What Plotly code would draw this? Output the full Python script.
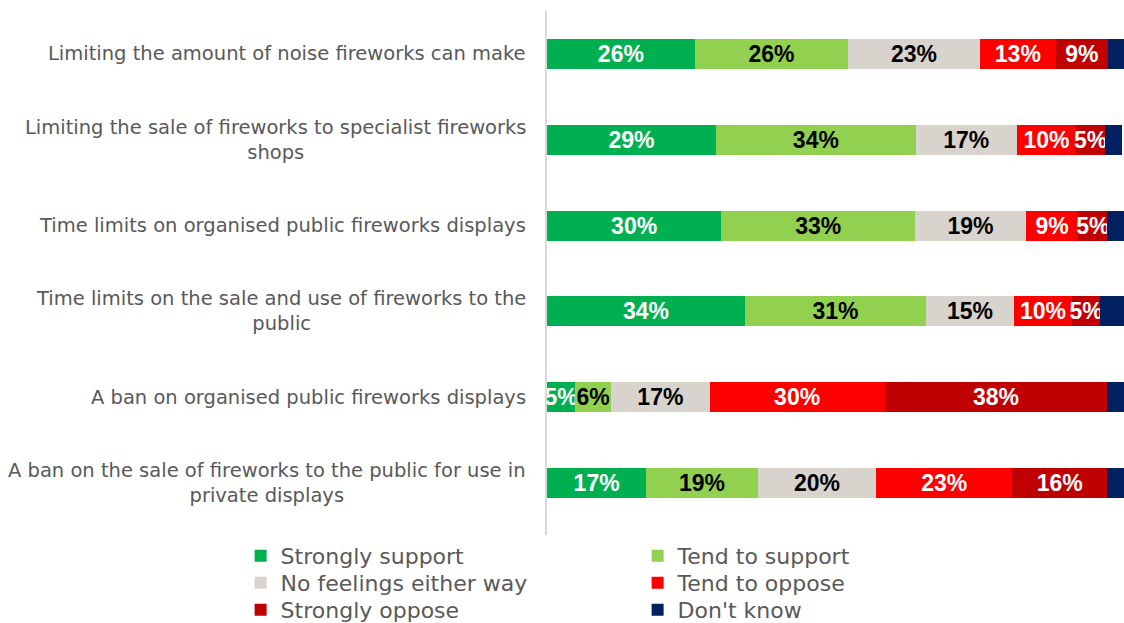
import plotly.graph_objects as go

categories = [
    "Limiting the amount of noise fireworks can make",
    "Limiting the sale of fireworks to specialist fireworks<br>shops",
    "Time limits on organised public fireworks displays",
    "Time limits on the sale and use of fireworks to the<br>public",
    "A ban on organised public fireworks displays",
    "A ban on the sale of fireworks to the public for use in<br>private displays",
]

series_names = ["Strongly support", "Tend to support", "No feelings either way",
                "Tend to oppose", "Strongly oppose", "Don't know"]

strongly_support = [25.6, 29.3, 30.2, 34.3, 4.9, 17.2]
tend_to_support = [26.6, 34.6, 33.6, 31.4, 6.2, 19.3]
no_feelings = [22.8, 17.5, 19.2, 15.2, 17.1, 20.6]
tend_to_oppose = [13.2, 10.3, 9.1, 10.1, 30.3, 23.5]
strongly_oppose = [9.0, 5.0, 5.0, 4.9, 38.6, 16.5]
dont_know = [2.8, 2.9, 2.9, 4.1, 2.9, 2.9]

label_strongly_support = [26, 29, 30, 34, 5, 17]
label_tend_to_support = [26, 34, 33, 31, 6, 19]
label_no_feelings = [23, 17, 19, 15, 17, 20]
label_tend_to_oppose = [13, 10, 9, 10, 30, 23]
label_strongly_oppose = [9, 5, 5, 5, 38, 16]

colors = ["#00B050", "#92D050", "#D8D3CD", "#FF0000", "#C00000", "#002060"]
text_colors = ["white", "black", "black", "white", "white", "white"]

values = [strongly_support, tend_to_support, no_feelings, tend_to_oppose, strongly_oppose, dont_know]
labels = [label_strongly_support, label_tend_to_support, label_no_feelings,
          label_tend_to_oppose, label_strongly_oppose, None]
legend_ids = ["legend", "legend", "legend2", "legend2", "legend3", "legend3"]

TEXT_FONT = "DejaVu Sans"

fig = go.Figure()
for name, vals, labs, col, tcol, lg in zip(series_names, values, labels, colors, text_colors, legend_ids):
    fig.add_trace(go.Bar(
        y=categories, x=vals, name=name, orientation="h",
        marker=dict(color=col, line=dict(width=0)),
        text=[f"{v}%" for v in labs] if labs else None,
        textposition="inside" if labs else "none",
        insidetextanchor="middle",
        textangle=0,
        constraintext="none",
        cliponaxis=True,
        textfont=dict(family="Liberation Sans", size=23, color=tcol, weight="bold"),
        legend=lg,
        hoverinfo="skip",
    ))

for cat in categories:
    fig.add_annotation(
        x=0, xref="paper", y=cat, yref="y", xanchor="right", yanchor="middle",
        xshift=-19, text=cat, showarrow=False, align="center",
        font=dict(family=TEXT_FONT, size=19.5, color="#595959"),
    )

legend_common = dict(orientation="h", xref="paper", yref="paper", x=-0.531, xanchor="left",
                     yanchor="middle", entrywidth=352, entrywidthmode="pixels",
                     font=dict(family=TEXT_FONT, size=22, color="#595959"),
                     bgcolor="rgba(0,0,0,0)", traceorder="normal")

fig.update_layout(
    width=1124, height=623,
    margin=dict(l=547, r=0, t=11, b=88, autoexpand=False),
    barmode="stack", bargap=0.65,
    plot_bgcolor="white", paper_bgcolor="white",
    showlegend=True,
    legend=dict(legend_common, y=-(556 - 535) / 524),
    legend2=dict(legend_common, y=-(583 - 535) / 524),
    legend3=dict(legend_common, y=-(610 - 535) / 524),
    xaxis=dict(range=[0, 100], visible=False, fixedrange=True),
    yaxis=dict(categoryorder="array", categoryarray=categories, range=[5.606, -0.5],
               showticklabels=False, showgrid=False, zeroline=False,
               showline=True, linecolor="#D9D9D9", linewidth=2, ticks=""),
)

fig.write_html("out.html")
